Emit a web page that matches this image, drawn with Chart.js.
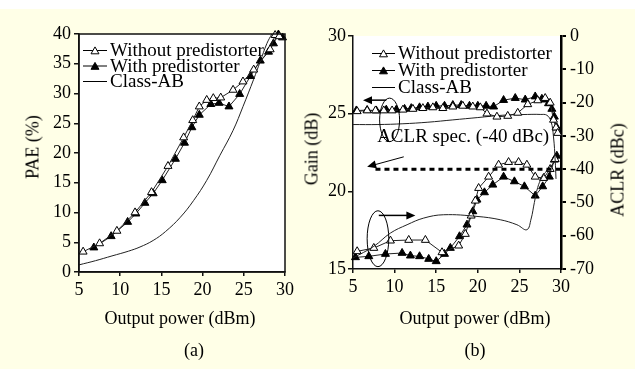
<!DOCTYPE html>
<html>
<head>
<meta charset="utf-8">
<script src="https://cdn.jsdelivr.net/npm/chart.js@4.4.1/dist/chart.umd.min.js"></script>
<style>
  html, body { margin: 0; padding: 0; }
  body { width: 635px; height: 369px; background: #FFFFE7; position: relative; overflow: hidden;
         font-family: "Liberation Serif", "Times New Roman", serif; }
  #topStrip { position: absolute; left: 0; top: 0; width: 635px; height: 9px; background: #fff; }
  canvas { position: absolute; top: 0; }
  #chartA { left: 0; }
  #chartB { left: 300px; }
  .lbl { position: absolute; font-size: 18px; color: #000; white-space: nowrap; transform: translate(-50%, -50%); }
  .rot { transform: translate(-50%, -50%) rotate(-90deg); }
</style>
</head>
<body>
<div id="topStrip"></div>
<canvas id="chartA" width="300" height="369"></canvas>
<canvas id="chartB" width="335" height="369"></canvas>
<div class="lbl" style="left:180px; top:318px;">Output power (dBm)</div>
<div class="lbl rot" style="left:33px; top:147px;">PAE (%)</div>
<div class="lbl" style="left:475px; top:318px;">Output power (dBm)</div>
<div class="lbl rot" style="left:312px; top:149px;">Gain (dB)</div>
<div class="lbl rot" style="left:618px; top:170px;">ACLR (dBc)</div>
<div class="lbl" style="left:194px; top:350px;">(a)</div>
<div class="lbl" style="left:475px; top:350px;">(b)</div>
<script>
// ticks
const X_TICKS = [5, 10, 15, 20, 25, 30];
const PAE_TICKS = [0, 5, 10, 15, 20, 25, 30, 35, 40];
const GAIN_TICKS = [15, 20, 25, 30];
const ACLR_TICKS = [0, -10, -20, -30, -40, -50, -60, -70];

// (a) PAE vs output power
const paeWithoutX = [5.5, 7.5, 9.6, 11.8, 13.8, 15.8, 17.7, 18.8, 19.6, 20.5, 21.3, 22.2, 23.7, 24.9, 26.2, 28.2, 28.8, 29.3];
const paeWithoutY = [3.4, 4.8, 6.9, 10.0, 13.4, 17.8, 22.6, 25.5, 27.8, 28.9, 29.2, 29.3, 30.6, 32.0, 34.0, 37.4, 39.8, 39.6];
const paeWithX = [6.8, 8.9, 10.9, 11.9, 13.0, 14.0, 15.1, 16.7, 17.8, 18.7, 19.6, 21.0, 22.0, 23.2, 24.5, 25.8, 27.0, 28.0, 28.6, 29.2, 29.7];
const paeWithY = [4.1, 6.0, 8.4, 9.8, 11.6, 13.2, 15.4, 19.0, 21.7, 24.3, 26.4, 28.2, 28.4, 27.8, 29.9, 32.9, 35.5, 37.0, 38.4, 39.9, 39.4];
const paeClassAbX = [5, 7, 9, 11, 12.4, 14, 15.5, 17.3, 18.9, 20.5, 22.1, 23.7, 24.9, 26.2, 27, 27.8, 28.4];
const paeClassAbY = [1.2, 1.9, 2.7, 3.5, 4.2, 5.3, 6.8, 9.2, 12.0, 15.4, 19.6, 23.8, 27.8, 32.4, 35.4, 38.4, 40];

// (b) gain (left axis)
const gainWithoutX = [5.5, 6.7, 7.7, 8.7, 9.7, 11.0, 12.2, 13.4, 14.6, 15.8, 17.0, 18.2, 19.4, 20.3, 21.1, 22.3, 23.6, 24.8, 26.0, 27.2, 28.1, 28.7, 29.1, 29.4, 29.6];
const gainWithoutY = [25.15, 25.2, 25.2, 25.2, 25.2, 25.25, 25.3, 25.35, 25.4, 25.35, 25.45, 25.5, 25.45, 25.4, 25.0, 24.8, 24.85, 25.05, 25.6, 25.85, 26.0, 25.7, 24.6, 24.1, 23.75];
const gainWithX = [5.4, 6.7, 7.8, 9.0, 10.2, 11.2, 12.0, 13.0, 14.0, 15.0, 16.0, 17.0, 18.0, 19.0, 20.0, 21.0, 21.9, 23.1, 24.5, 25.7, 26.9, 27.7, 28.1, 28.5, 28.9, 29.2, 29.5];
const gainWithY = [25.2, 25.23, 25.2, 25.25, 25.25, 25.3, 25.35, 25.4, 25.45, 25.5, 25.5, 25.55, 25.55, 25.5, 25.5, 25.5, 25.45, 25.87, 26.0, 25.9, 26.1, 25.95, 25.9, 25.66, 25.3, 24.8, 24.1];
const gainClassAbX = [5, 8, 11, 14, 17, 20, 23, 26, 27.5, 28.3, 28.8, 29.1, 29.3, 29.4];
const gainClassAbY = [24.3, 24.3, 24.35, 24.45, 24.6, 24.75, 24.9, 24.95, 24.95, 24.9, 24.5, 23.5, 22.0, 20.8];

// (b) ACLR (right axis)
const aclrWithoutX = [5.5, 7.5, 9.5, 11.7, 13.7, 15.7, 17.7, 18.5, 19.2, 19.7, 20.1, 21.3, 22.5, 23.7, 24.9, 25.9, 26.9, 27.9, 28.7, 29.3];
const aclrWithoutY = [-64.7, -63.7, -61.5, -61.3, -61.3, -65.0, -63.0, -59.5, -54.0, -49.5, -45.7, -42.3, -38.7, -37.9, -37.9, -38.7, -42.3, -42.7, -40.0, -37.0];
const aclrWithX = [5.3, 6.9, 8.9, 10.9, 11.9, 13.0, 14.1, 15.0, 16.0, 16.7, 17.8, 18.7, 19.4, 19.9, 20.8, 21.8, 23.1, 24.4, 25.6, 26.9, 27.8, 28.6, 29.2, 29.5];
const aclrWithY = [-66.5, -66.2, -65.5, -65.2, -66.0, -66.2, -67.0, -67.7, -65.5, -63.7, -60.2, -56.7, -52.7, -49.2, -47.0, -44.7, -42.3, -43.7, -45.2, -48.0, -45.2, -42.3, -37.2, -36.0];
const aclrClassAbX = [5, 7.5, 9.5, 11.5, 13.5, 15.9, 19.9, 22.7, 24.7, 25.9, 26.4, 26.8, 27.2, 27.7, 28.3, 29.0, 29.4];
const aclrClassAbY = [-66.7, -63.2, -59.2, -56.7, -54.7, -53.7, -54.2, -55.2, -56.7, -58.2, -55.0, -50.0, -45.5, -42.5, -40.5, -38.5, -37.5];

// ACLR spec line
const specX = [7.7, 30];
const specY = [-40, -40];

const FONT = { family: '"Liberation Serif", "Times New Roman", serif', size: 18 };
const INK = '#111';

function pts(xs, ys) { return xs.map((x, i) => ({ x: x, y: ys[i] })); }

function fixedTicks(list) {
  return s => { s.ticks = list.map(v => ({ value: v })); };
}

function tri(ctx, x, y, r, fill) {
  ctx.beginPath();
  ctx.moveTo(x, y - r);
  ctx.lineTo(x + r * 0.866, y + r * 0.5);
  ctx.lineTo(x - r * 0.866, y + r * 0.5);
  ctx.closePath();
  ctx.fillStyle = fill;
  ctx.fill();
  ctx.strokeStyle = '#000';
  ctx.lineWidth = 1;
  ctx.stroke();
}

function markerSet(label, data, fill, yAxisID) {
  return {
    label, data, yAxisID,
    borderColor: '#222', borderWidth: 1, tension: 0,
    pointStyle: 'triangle', pointRadius: 4.6,
    pointBackgroundColor: fill, pointBorderColor: '#000', pointBorderWidth: 1,
    clip: false
  };
}

function curveSet(label, data, yAxisID) {
  return {
    label, data, yAxisID,
    borderColor: '#222', borderWidth: 1, tension: 0.4, pointRadius: 0
  };
}

// white plot area + box
const plotBg = {
  id: 'plotBg',
  beforeDraw(chart) {
    const a = chart.chartArea, ctx = chart.ctx;
    ctx.save();
    ctx.fillStyle = '#fff';
    ctx.fillRect(a.left, a.top, a.right - a.left, a.bottom - a.top);
    ctx.restore();
  },
  afterDraw(chart, args, opts) {
    if (!opts.box) return;
    const a = chart.chartArea, ctx = chart.ctx;
    ctx.save();
    ctx.strokeStyle = INK;
    ctx.lineWidth = 1.5;
    ctx.strokeRect(a.left, a.top, a.right - a.left, a.bottom - a.top);
    ctx.restore();
  }
};

// legend drawn inside the plot
const inLegend = {
  id: 'inLegend',
  afterDraw(chart, args, opts) {
    const ctx = chart.ctx;
    ctx.save();
    ctx.font = '19px "Liberation Serif"';
    ctx.textBaseline = 'middle';
    opts.items.forEach((it, i) => {
      const ds = chart.data.datasets[it.ds];
      const y = opts.y + i * opts.rowH;
      ctx.strokeStyle = '#000';
      ctx.lineWidth = 1;
      ctx.beginPath();
      ctx.moveTo(opts.x, y);
      ctx.lineTo(opts.x + opts.len, y);
      ctx.stroke();
      if (ds.pointRadius > 0) tri(ctx, opts.x + opts.len / 2, y + 1, 4.6, ds.pointBackgroundColor);
      ctx.fillStyle = '#000';
      ctx.fillText(ds.label, opts.x + opts.len + opts.gap, y + 1);
    });
    ctx.restore();
  }
};

function arrow(ctx, x1, y1, x2, y2) {
  const ang = Math.atan2(y2 - y1, x2 - x1), L = 9, W = 4;
  ctx.beginPath();
  ctx.moveTo(x1, y1);
  ctx.lineTo(x2 - Math.cos(ang) * L * 0.8, y2 - Math.sin(ang) * L * 0.8);
  ctx.stroke();
  ctx.beginPath();
  ctx.moveTo(x2, y2);
  ctx.lineTo(x2 - Math.cos(ang) * L - Math.sin(ang) * W, y2 - Math.sin(ang) * L + Math.cos(ang) * W);
  ctx.lineTo(x2 - Math.cos(ang) * L + Math.sin(ang) * W, y2 - Math.sin(ang) * L - Math.cos(ang) * W);
  ctx.closePath();
  ctx.fill();
}

// ellipses, arrows and spec text of panel (b)
const annoB = {
  id: 'annoB',
  afterDatasetsDraw(chart) {
    const ctx = chart.ctx, x = chart.scales.x, g = chart.scales.yGain, a = chart.scales.yAclr;
    ctx.save();
    ctx.strokeStyle = '#000';
    ctx.fillStyle = '#000';
    ctx.lineWidth = 1;
    // gain group
    ctx.beginPath();
    ctx.ellipse(x.getPixelForValue(9.4), g.getPixelForValue(24.6),
      x.getPixelForValue(10.6) - x.getPixelForValue(9.4),
      g.getPixelForValue(23.2) - g.getPixelForValue(24.6), 0, 0, Math.PI * 2);
    ctx.stroke();
    ctx.lineWidth = 1.5;
    arrow(ctx, x.getPixelForValue(9.0), g.getPixelForValue(25.87), x.getPixelForValue(6.2), g.getPixelForValue(25.87));
    // ACLR group
    ctx.lineWidth = 1;
    ctx.beginPath();
    ctx.ellipse(x.getPixelForValue(8.0), a.getPixelForValue(-60.9),
      x.getPixelForValue(9.3) - x.getPixelForValue(8.0),
      a.getPixelForValue(-69.3) - a.getPixelForValue(-60.9), 0, 0, Math.PI * 2);
    ctx.stroke();
    ctx.lineWidth = 1.5;
    arrow(ctx, x.getPixelForValue(8.1), a.getPixelForValue(-53.9), x.getPixelForValue(12.5), a.getPixelForValue(-53.9));
    // spec pointer
    ctx.lineWidth = 1;
    arrow(ctx, x.getPixelForValue(11.1), a.getPixelForValue(-36.3), x.getPixelForValue(6.7), a.getPixelForValue(-39.3));
    ctx.font = '19px "Liberation Serif"';
    ctx.textBaseline = 'middle';
    ctx.fillText('ACLR spec. (-40 dBc)', x.getPixelForValue(7.9), a.getPixelForValue(-30.3));
    ctx.restore();
  }
};

function axisGrid(len) {
  return { display: true, drawOnChartArea: false, drawTicks: true, tickLength: len, color: INK, lineWidth: 1.5 };
}

// ---- panel (a)
new Chart(document.getElementById('chartA'), {
  type: 'line',
  data: {
    datasets: [
      markerSet('Without predistorter', pts(paeWithoutX, paeWithoutY), '#fff', 'y'),
      markerSet('With predistorter', pts(paeWithX, paeWithY), '#000', 'y'),
      curveSet('Class-AB', pts(paeClassAbX, paeClassAbY), 'y')
    ]
  },
  options: {
    responsive: false, animation: false, devicePixelRatio: 1,
    layout: { padding: { left: 0, top: 34, right: 15, bottom: 0 } },
    plugins: {
      legend: { display: false }, tooltip: { enabled: false },
      plotBg: { box: true },
      inLegend: { x: 83, y: 50.5, rowH: 15.5, len: 24, gap: 3, items: [{ ds: 0 }, { ds: 1 }, { ds: 2 }] }
    },
    scales: {
      x: {
        type: 'linear', min: 5, max: 30,
        afterBuildTicks: fixedTicks(X_TICKS),
        afterFit: s => { s.height = 97; },
        grid: axisGrid(4),
        border: { display: true, color: INK, width: 1.5 },
        ticks: { font: FONT, color: '#000', padding: 3, maxRotation: 0 }
      },
      y: {
        min: 0, max: 40,
        afterBuildTicks: fixedTicks(PAE_TICKS),
        afterFit: s => { s.width = 79; },
        grid: axisGrid(5),
        border: { display: true, color: INK, width: 1.5 },
        ticks: { font: FONT, color: '#000', padding: 3 }
      }
    }
  },
  plugins: [plotBg, inLegend]
});

// ---- panel (b)
new Chart(document.getElementById('chartB'), {
  type: 'line',
  data: {
    datasets: [
      markerSet('Without predistorter', pts(gainWithoutX, gainWithoutY), '#fff', 'yGain'),
      markerSet('With predistorter', pts(gainWithX, gainWithY), '#000', 'yGain'),
      curveSet('Class-AB', pts(gainClassAbX, gainClassAbY), 'yGain'),
      { label: 'ACLR spec', data: pts(specX, specY), yAxisID: 'yAclr', borderColor: '#000',
        borderWidth: 3, borderDash: [5, 4], pointRadius: 0 },
      curveSet('Class-AB ACLR', pts(aclrClassAbX, aclrClassAbY), 'yAclr'),
      markerSet('Without predistorter ACLR', pts(aclrWithoutX, aclrWithoutY), '#fff', 'yAclr'),
      markerSet('With predistorter ACLR', pts(aclrWithX, aclrWithY), '#000', 'yAclr')
    ]
  },
  options: {
    responsive: false, animation: false, devicePixelRatio: 1,
    layout: { padding: { left: 0, top: 36, right: 0, bottom: 0 } },
    plugins: {
      legend: { display: false }, tooltip: { enabled: false },
      plotBg: { box: false },
      inLegend: { x: 72, y: 53.5, rowH: 17, len: 23, gap: 3, items: [{ ds: 0 }, { ds: 1 }, { ds: 2 }] }
    },
    scales: {
      x: {
        type: 'linear', min: 5, max: 30,
        afterBuildTicks: fixedTicks(X_TICKS),
        afterFit: s => { s.height = 100; },
        grid: axisGrid(4),
        border: { display: true, color: INK, width: 1.5 },
        ticks: { font: FONT, color: '#000', padding: 3, maxRotation: 0 }
      },
      yGain: {
        position: 'left', min: 15, max: 30,
        afterBuildTicks: fixedTicks(GAIN_TICKS),
        afterFit: s => { s.width = 53; },
        grid: axisGrid(5),
        border: { display: true, color: INK, width: 1.5 },
        ticks: { font: FONT, color: '#000', padding: 2 }
      },
      yAclr: {
        position: 'right', min: -70, max: 0,
        afterBuildTicks: fixedTicks(ACLR_TICKS),
        afterFit: s => { s.width = 74; },
        grid: { display: true, drawOnChartArea: false, drawTicks: true, tickLength: 5, color: '#000', lineWidth: 2 },
        border: { display: true, color: '#000', width: 2.5 },
        ticks: { font: FONT, color: '#000', padding: 4 }
      }
    }
  },
  plugins: [plotBg, inLegend, annoB]
});
</script>
</body>
</html>
